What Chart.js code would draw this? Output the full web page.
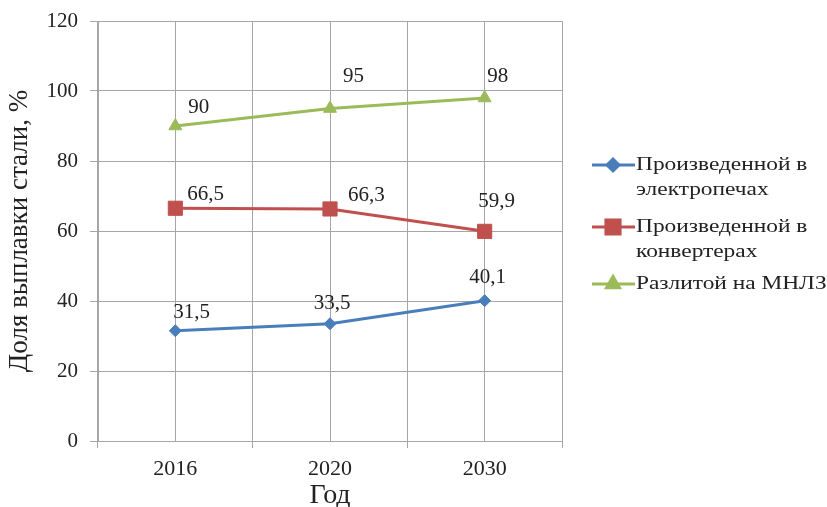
<!DOCTYPE html>
<html>
<head>
<meta charset="utf-8">
<script src="https://cdn.jsdelivr.net/npm/chart.js@4/dist/chart.umd.min.js"></script>
<style>
  html, body { margin: 0; padding: 0; background: #fff; }
  #wrap { width: 827px; height: 507px; }
</style>
</head>
<body>
<div id="wrap"><canvas id="myChart" width="827" height="507"></canvas></div>
<script>
// данные
var years = ['2016', '2020', '2030'];
var electro = [31.5, 33.5, 40.1];
var converter = [66.5, 66.3, 59.9];
var mnlz = [90, 95, 98];
var seriesNames = [
    ['Произведенной в', 'электропечах'],
    ['Произведенной в', 'конвертерах'],
    ['Разлитой на МНЛЗ']
];
var yMin = 0, yMax = 120, yStep = 20;

var serif = '"Liberation Serif", "DejaVu Serif", serif';
var colors = ['#4a7ebb', '#c0504d', '#9bbb59'];

// смещения подписей данных (как в Excel, где их двигали вручную)
var labelPos = [
    [{dx: -2, dy: -18, align: 'left'}, {dx: 2, dy: -20, align: 'center'}, {dx: 3, dy: -23, align: 'center'}],
    [{dx: 12, dy: -14, align: 'left'}, {dx: 18, dy: -13, align: 'left'}, {dx: 12, dy: -30, align: 'center'}],
    [{dx: 13, dy: -19, align: 'left'}, {dx: 13, dy: -32, align: 'left'}, {dx: 13, dy: -22, align: 'center'}]
];

var dataLabels = {
    id: 'dataLabels',
    afterDatasetsDraw: function (chart) {
        var ctx = chart.ctx;
        ctx.save();
        ctx.font = '21px ' + serif;
        ctx.fillStyle = '#222';
        ctx.textBaseline = 'middle';
        chart.data.datasets.forEach(function (ds, di) {
            var meta = chart.getDatasetMeta(di);
            meta.data.forEach(function (pt, i) {
                var p = labelPos[di][i];
                ctx.textAlign = p.align;
                ctx.fillText(String(ds.data[i]).replace('.', ','), pt.x + p.dx, pt.y + p.dy);
            });
        });
        ctx.restore();
    }
};

var sideLegend = {
    id: 'sideLegend',
    afterDraw: function (chart) {
        var ctx = chart.ctx;
        var rows = [165, 227, 284];
        ctx.save();
        chart.data.datasets.forEach(function (ds, di) {
            var y = rows[di];
            ctx.strokeStyle = ds.borderColor;
            ctx.lineWidth = 3;
            ctx.beginPath();
            ctx.moveTo(592, y);
            ctx.lineTo(635, y);
            ctx.stroke();
            ctx.fillStyle = ds.borderColor;
            ctx.strokeStyle = ds.borderColor;
            Chart.helpers.drawPoint(ctx, {
                pointStyle: ds.pointStyle,
                radius: ds.pointRadius,
                borderWidth: 1
            }, 613, y);
            ctx.fillStyle = '#222';
            ctx.font = '19px ' + serif;
            ctx.textAlign = 'left';
            ctx.textBaseline = 'middle';
            seriesNames[di].forEach(function (line, li) {
                ctx.save();
                ctx.translate(636, y + li * 25);
                ctx.scale(1.23, 1);
                ctx.fillText(line, 0, 0);
                ctx.restore();
            });
        });
        ctx.restore();
    }
};

function serie(label, data, color, style, r) {
    return {
        label: label,
        data: data,
        borderColor: color,
        backgroundColor: color,
        borderWidth: 3,
        pointStyle: style,
        pointRadius: r,
        pointHoverRadius: r,
        pointBorderWidth: 1,
        tension: 0,
        fill: false
    };
}

var ctx = document.getElementById('myChart').getContext('2d');
new Chart(ctx, {
    type: 'line',
    data: {
        labels: years,
        datasets: [
            serie(seriesNames[0].join(' '), electro, colors[0], 'rectRot', 6),
            serie(seriesNames[1].join(' '), converter, colors[1], 'rect', 10),
            serie(seriesNames[2].join(' '), mnlz, colors[2], 'triangle', 7.5)
        ]
    },
    options: {
        responsive: false,
        animation: false,
        layout: { padding: { left: 0, right: 265, top: 21, bottom: 0 } },
        plugins: {
            legend: { display: false },
            tooltip: { enabled: false }
        },
        scales: {
            x: {
                type: 'category',
                offset: true,
                grid: { offset: true, color: '#a6a6a6', tickColor: '#a6a6a6', tickLength: 7, lineWidth: 1 },
                border: { color: '#a6a6a6' },
                ticks: { font: { family: serif, size: 22 }, color: '#222', padding: 8 },
                title: { display: true, text: 'Год', font: { family: serif, size: 28, lineHeight: 1 }, color: '#222', padding: { top: 0, bottom: -3 } },
                afterFit: function (s) { s.height = 66; s.paddingLeft = 0; s.paddingRight = 0; }
            },
            x2: {
                type: 'category',
                position: 'bottom',
                offset: true,
                grid: { offset: false, color: '#a6a6a6', drawTicks: false },
                border: { display: false },
                ticks: { display: false },
                afterFit: function (s) { s.height = 0; }
            },
            y: {
                min: yMin,
                max: yMax,
                ticks: { stepSize: yStep, font: { family: serif, size: 21 }, color: '#222', padding: 12 },
                grid: { color: '#a6a6a6', tickColor: '#a6a6a6', tickLength: 8 },
                border: { color: '#a6a6a6' },
                title: { display: true, text: 'Доля выплавки стали, %', font: { family: serif, size: 27 }, color: '#222', padding: { top: 4, bottom: 0 } },
                afterFit: function (s) { s.width = 98; s.paddingTop = 0; s.paddingBottom = 0; }
            }
        }
    },
    plugins: [dataLabels, sideLegend]
});
</script>
</body>
</html>
